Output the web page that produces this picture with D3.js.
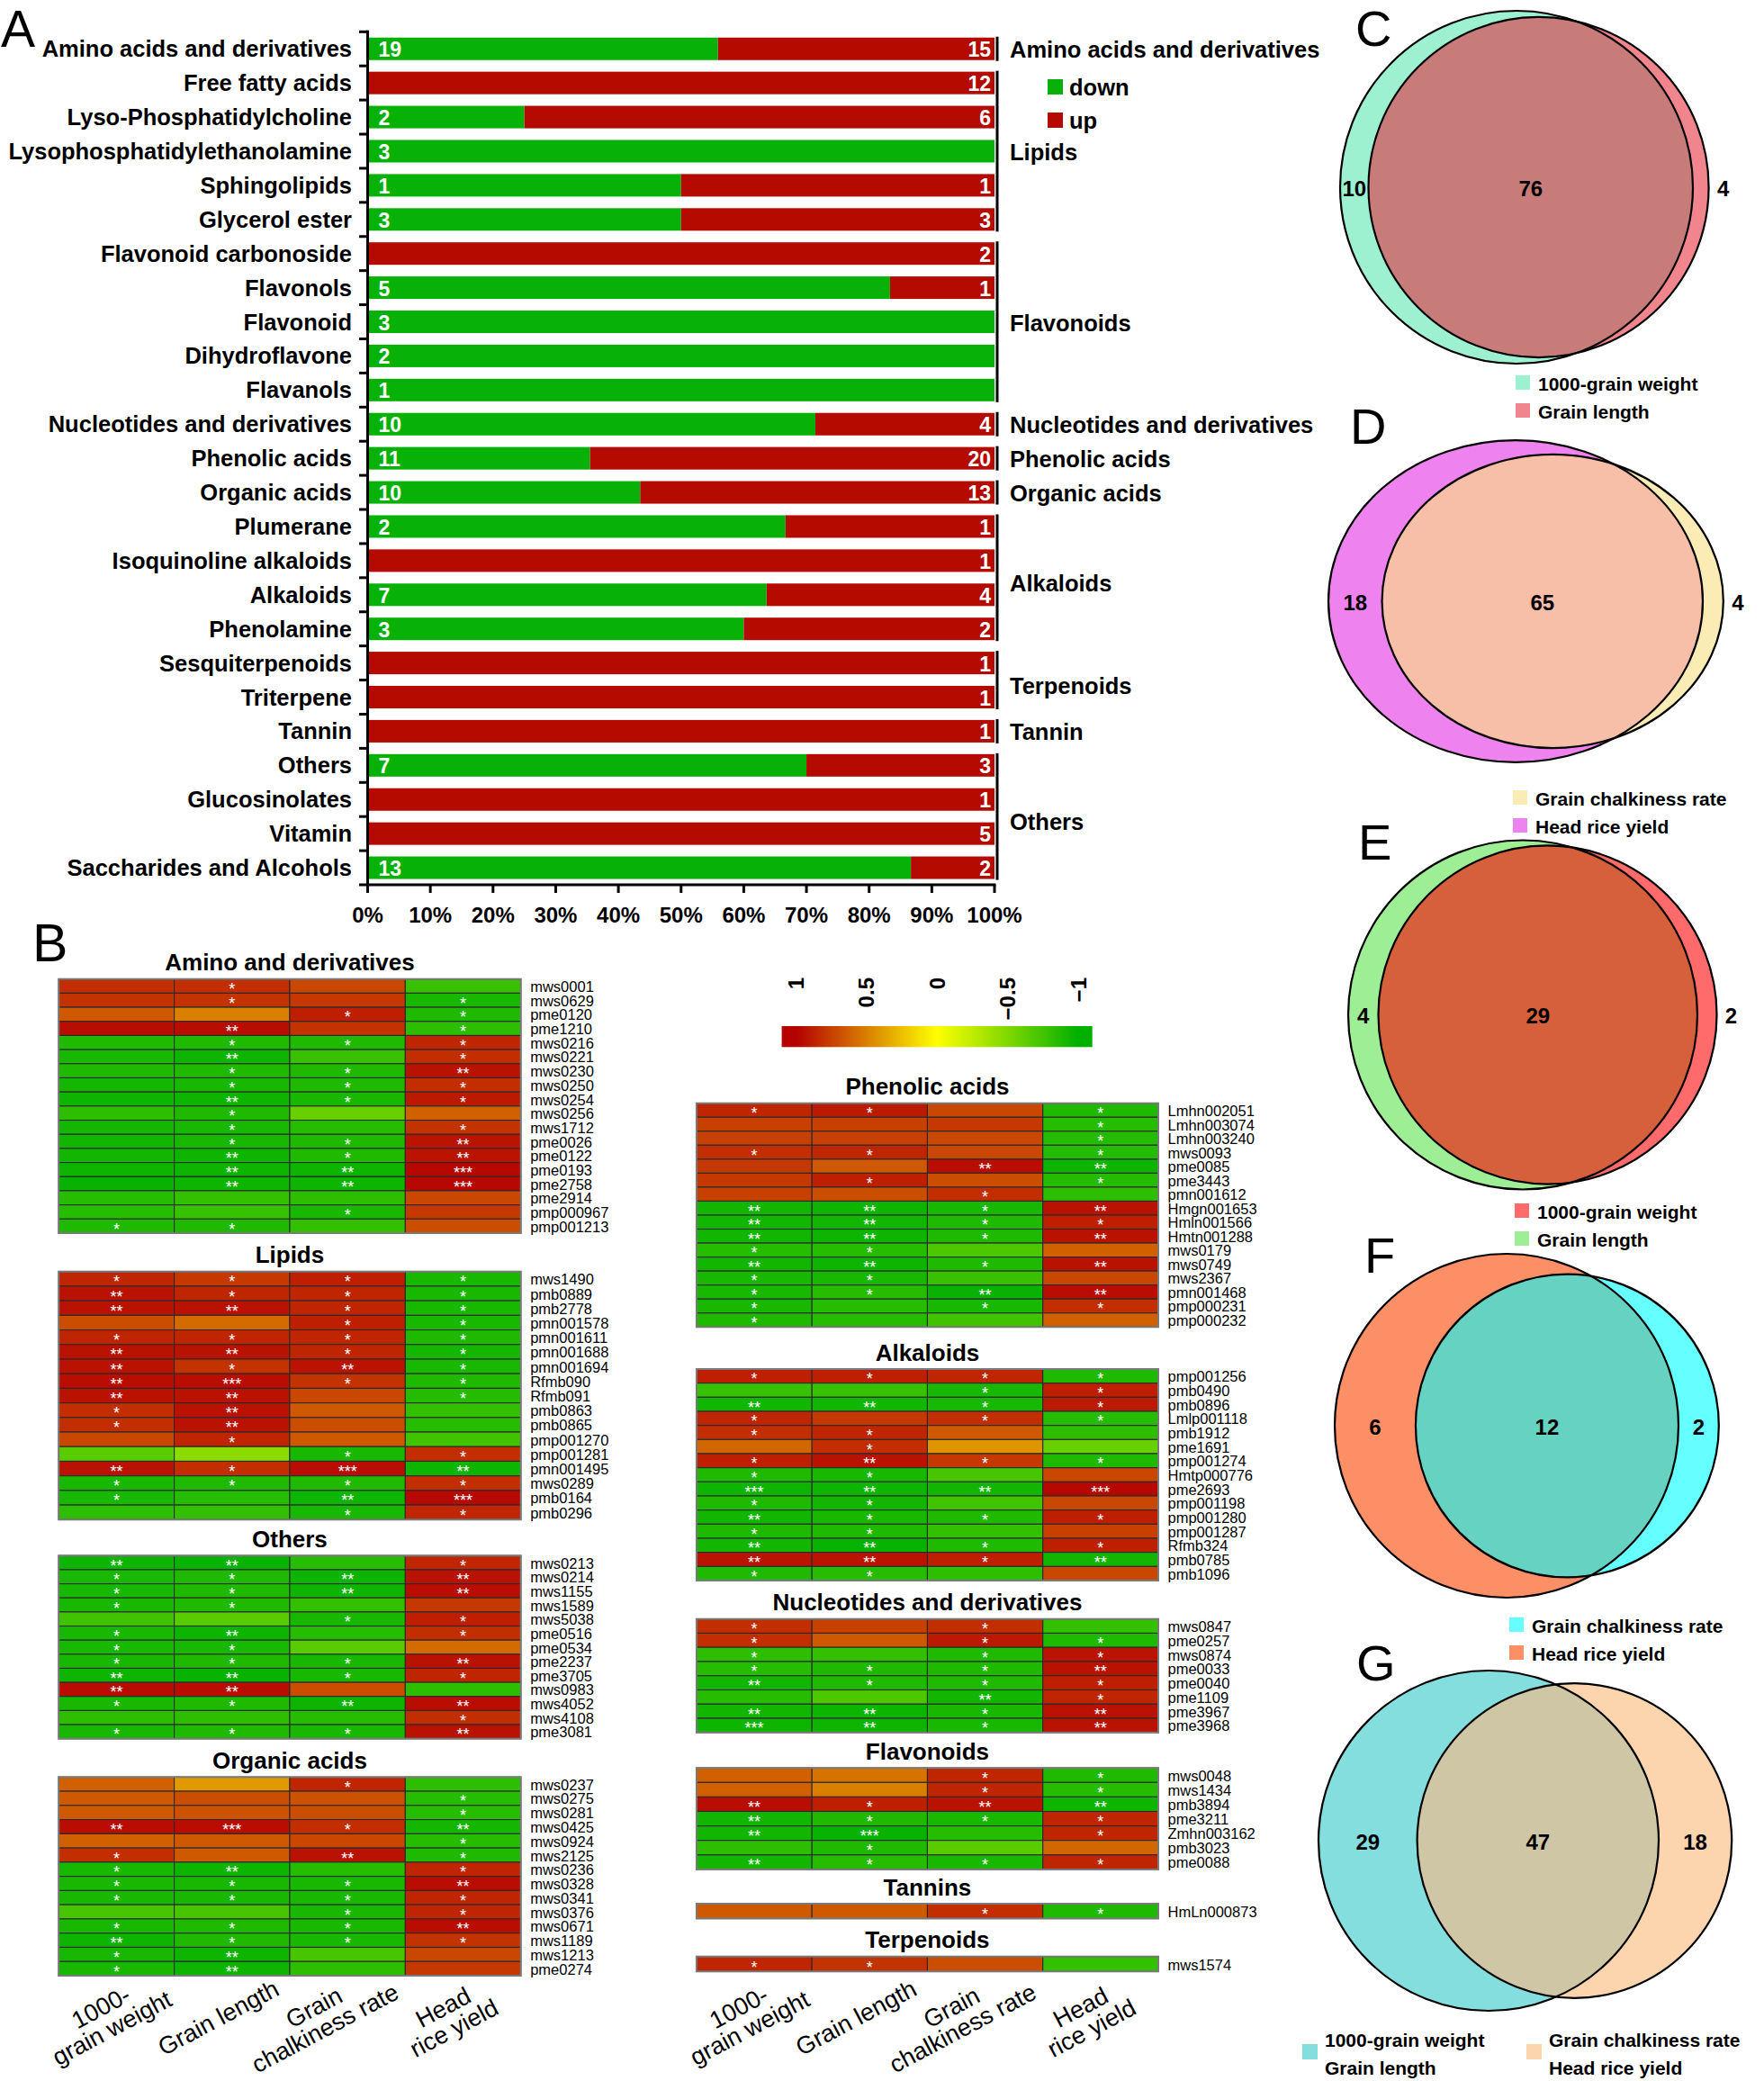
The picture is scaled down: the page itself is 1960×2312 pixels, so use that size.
<!DOCTYPE html>
<html><head><meta charset="utf-8">
<script src="https://cdn.jsdelivr.net/npm/d3@7"></script>
<style>body{margin:0;background:#fff}svg{display:block}text{font-family:"Liberation Sans",Arial,Helvetica,sans-serif}</style>
</head><body>
<svg id="chart" width="1960" height="2312"></svg>
<script>
// ================= DATA =================
// Panel A
const classNames = ["Amino acids and derivatives","Free fatty acids","Lyso-Phosphatidylcholine","Lysophosphatidylethanolamine","Sphingolipids","Glycerol ester","Flavonoid carbonoside","Flavonols","Flavonoid","Dihydroflavone","Flavanols","Nucleotides and derivatives","Phenolic acids","Organic acids","Plumerane","Isoquinoline alkaloids","Alkaloids","Phenolamine","Sesquiterpenoids","Triterpene","Tannin","Others","Glucosinolates","Vitamin","Saccharides and Alcohols"];
const downCounts = [19,0,2,3,1,3,0,5,3,2,1,10,11,10,2,0,7,3,0,0,0,7,0,0,13];
const upCounts   = [15,12,6,0,1,3,2,1,0,0,0,4,20,13,1,1,4,2,1,1,1,3,1,5,2];
const groupNames = ["Amino acids and derivatives","Lipids","Flavonoids","Nucleotides and derivatives","Phenolic acids","Organic acids","Alkaloids","Terpenoids","Tannin","Others"];
const groupFirst = [0,1,6,11,12,13,14,18,20,21];
const groupLast  = [0,5,10,11,12,13,17,19,20,24];
const percentTicks = [0,10,20,30,40,50,60,70,80,90,100];
const directionLabels = ["down","up"];

// Panel B
const traitLabels = [["1000-","grain weight"],["Grain length"],["Grain","chalkiness rate"],["Head","rice yield"]];
const colorbarTicks = [1,0.5,0,-0.5,-1];

const aminoIds = ["mws0001","mws0629","pme0120","pme1210","mws0216","mws0221","mws0230","mws0250","mws0254","mws0256","mws1712","pme0026","pme0122","pme0193","pme2758","pme2914","pmp000967","pmp001213"];
const aminoVals = [[0.82,0.82,0.72,-0.78],[0.80,0.80,0.78,-0.90],[0.65,0.50,0.88,-0.88],[0.95,0.95,0.80,-0.82],[-0.88,-0.88,-0.88,0.85],[-0.90,-0.95,-0.78,0.82],[-0.88,-0.88,-0.88,0.93],[-0.92,-0.90,-0.88,0.82],[-0.95,-0.95,-0.90,0.90],[-0.82,-0.88,-0.60,0.62],[-0.92,-0.90,-0.85,0.80],[-0.93,-0.90,-0.88,0.92],[-0.93,-0.95,-0.88,0.92],[-0.95,-0.95,-0.95,0.97],[-0.97,-0.95,-0.95,0.97],[-0.85,-0.80,-0.82,0.72],[-0.85,-0.78,-0.90,0.78],[-0.88,-0.88,-0.80,0.70]];
const aminoSig = [["","*","",""],["","*","","*"],["","","*","*"],["","**","","*"],["","*","*","*"],["","**","","*"],["","*","*","**"],["","*","*","*"],["","**","*","*"],["","*","",""],["","*","","*"],["","*","*","**"],["","**","*","**"],["","**","**","***"],["","**","**","***"],["","","",""],["","","*",""],["*","*","",""]];

const lipidIds = ["mws1490","pmb0889","pmb2778","pmn001578","pmn001611","pmn001688","pmn001694","Rfmb090","Rfmb091","pmb0863","pmb0865","pmp001270","pmp001281","pmn001495","mws0289","pmb0164","pmb0296"];
const lipidVals = [[0.85,0.78,0.88,-0.90],[0.93,0.85,0.85,-0.90],[0.93,0.93,0.85,-0.90],[0.70,0.58,0.88,-0.90],[0.85,0.85,0.85,-0.88],[0.93,0.93,0.85,-0.92],[0.93,0.80,0.92,-0.90],[0.95,0.95,0.80,-0.88],[0.93,0.93,0.72,-0.86],[0.82,0.93,0.65,-0.80],[0.82,0.93,0.70,-0.85],[0.72,0.85,0.65,-0.75],[-0.65,-0.45,-0.90,0.82],[0.93,0.82,0.95,-0.95],[-0.90,-0.88,-0.88,0.82],[-0.90,-0.85,-0.95,0.97],[-0.82,-0.80,-0.90,0.85]];
const lipidSig = [["*","*","*","*"],["**","*","*","*"],["**","**","*","*"],["","","*","*"],["*","*","*","*"],["**","**","*","*"],["**","*","**","*"],["**","***","*","*"],["**","**","","*"],["*","**","",""],["*","**","",""],["","*","",""],["","","*","*"],["**","*","***","**"],["*","*","*","*"],["*","","**","***"],["","","*","*"]];

const otherIds = ["mws0213","mws0214","mws1155","mws1589","mws5038","pme0516","pme0534","pme2237","pme3705","mws0983","mws4052","mws4108","pme3081"];
const otherVals = [[-0.95,-0.97,-0.85,0.85],[-0.90,-0.88,-0.95,0.93],[-0.90,-0.88,-0.95,0.95],[-0.90,-0.88,-0.80,0.78],[-0.75,-0.65,-0.90,0.88],[-0.90,-0.95,-0.85,0.82],[-0.90,-0.90,-0.65,0.58],[-0.90,-0.88,-0.90,0.93],[-0.95,-0.97,-0.90,0.85],[0.95,0.95,0.70,-0.82],[-0.90,-0.88,-0.95,0.95],[-0.82,-0.82,-0.85,0.82],[-0.90,-0.88,-0.90,0.93]];
const otherSig = [["**","**","","*"],["*","*","**","**"],["*","*","**","**"],["*","*","",""],["","","*","*"],["*","**","","*"],["*","*","",""],["*","*","*","**"],["**","**","*","*"],["**","**","",""],["*","*","**","**"],["","","","*"],["*","*","*","**"]];

const organicIds = ["mws0237","mws0275","mws0281","mws0425","mws0924","mws2125","mws0236","mws0328","mws0341","mws0376","mws0671","mws1189","mws1213","pme0274"];
const organicVals = [[0.62,0.40,0.85,-0.82],[0.65,0.70,0.68,-0.85],[0.65,0.68,0.70,-0.85],[0.95,0.95,0.82,-0.92],[0.62,0.65,0.72,-0.85],[0.82,0.65,0.93,-0.88],[-0.90,-0.95,-0.85,0.85],[-0.90,-0.90,-0.90,0.95],[-0.90,-0.90,-0.90,0.85],[-0.72,-0.72,-0.90,0.85],[-0.90,-0.88,-0.90,0.95],[-0.95,-0.88,-0.90,0.80],[-0.90,-0.95,-0.72,0.72],[-0.90,-0.95,-0.82,0.78]];
const organicSig = [["","","*",""],["","","","*"],["","","","*"],["**","***","*","**"],["","","","*"],["*","","**","*"],["*","**","","*"],["*","*","*","**"],["*","*","*","*"],["","","*","*"],["*","*","*","**"],["**","*","*","*"],["*","**","",""],["*","**","",""]];

const phenolicIds = ["Lmhn002051","Lmhn003074","Lmhn003240","mws0093","pme0085","pme3443","pmn001612","Hmgn001653","Hmln001566","Hmtn001288","mws0179","mws0749","mws2367","pmn001468","pmp000231","pmp000232"];
const phenolicVals = [[0.85,0.90,0.72,-0.88],[0.75,0.75,0.78,-0.85],[0.75,0.75,0.72,-0.86],[0.82,0.85,0.72,-0.86],[0.78,0.65,0.95,-0.95],[0.78,0.88,0.70,-0.86],[0.75,0.70,0.82,-0.82],[-0.93,-0.95,-0.90,0.93],[-0.93,-0.93,-0.88,0.88],[-0.93,-0.95,-0.88,0.93],[-0.85,-0.85,-0.70,0.62],[-0.93,-0.95,-0.88,0.93],[-0.90,-0.90,-0.78,0.72],[-0.90,-0.85,-0.97,0.95],[-0.90,-0.85,-0.90,0.82],[-0.88,-0.85,-0.75,0.62]];
const phenolicSig = [["*","*","","*"],["","","","*"],["","","","*"],["*","*","","*"],["","","**","**"],["","*","","*"],["","","*",""],["**","**","*","**"],["**","**","*","*"],["**","**","*","**"],["*","*","",""],["**","**","*","**"],["*","*","",""],["*","*","**","**"],["*","","*","*"],["*","","",""]];

const alkaloidIds = ["pmp001256","pmb0490","pmb0896","Lmlp001118","pmb1912","pme1691","pmp001274","Hmtp000776","pme2693","pmp001198","pmp001280","pmp001287","Rfmb324","pmb0785","pmb1096"];
const alkaloidVals = [[0.88,0.88,0.85,-0.88],[-0.78,-0.78,-0.90,0.88],[-0.93,-0.93,-0.90,0.90],[0.85,0.78,0.82,-0.85],[0.82,0.85,0.65,-0.82],[0.60,0.82,0.42,-0.60],[0.88,0.93,0.78,-0.88],[-0.88,-0.90,-0.72,0.72],[-0.95,-0.95,-0.93,0.97],[-0.88,-0.93,-0.75,0.72],[-0.93,-0.90,-0.88,0.88],[-0.88,-0.88,-0.80,0.75],[-0.93,-0.97,-0.88,0.88],[0.92,0.92,0.88,-0.93],[-0.88,-0.85,-0.82,0.72]];
const alkaloidSig = [["*","*","*","*"],["","","*","*"],["**","**","*","*"],["*","","*","*"],["*","*","",""],["","*","",""],["*","**","*","*"],["*","*","",""],["***","**","**","***"],["*","*","",""],["**","*","*","*"],["*","*","",""],["**","**","*","*"],["**","**","*","**"],["*","*","",""]];

const nucleoIds = ["mws0847","pme0257","mws0874","pme0033","pme0040","pme1109","pme3967","pme3968"];
const nucleoVals = [[0.82,0.75,0.82,-0.80],[0.82,0.65,0.90,-0.88],[-0.82,-0.80,-0.88,0.92],[-0.85,-0.88,-0.88,0.93],[-0.93,-0.88,-0.88,0.88],[-0.85,-0.70,-0.93,0.85],[-0.93,-0.95,-0.90,0.93],[-0.95,-0.95,-0.90,0.93]];
const nucleoSig = [["*","","*",""],["*","","*","*"],["*","","*","*"],["*","*","*","**"],["**","*","*","*"],["","","**","*"],["**","**","*","**"],["***","**","*","**"]];

const flavoIds = ["mws0048","mws1434","pmb3894","pme3211","Zmhn003162","pmb3023","pme0088"];
const flavoVals = [[0.62,0.55,0.85,-0.88],[0.62,0.50,0.85,-0.85],[0.95,0.88,0.93,-0.95],[-0.93,-0.88,-0.90,0.85],[-0.93,-0.97,-0.85,0.85],[-0.82,-0.88,-0.65,0.60],[-0.93,-0.85,-0.90,0.85]];
const flavoSig = [["","","*","*"],["","","*","*"],["**","*","**","**"],["**","*","*","*"],["**","***","","*"],["","*","",""],["**","*","*","*"]];

const tanninIds = ["HmLn000873"];
const tanninVals = [[0.65,0.65,0.82,-0.88]];
const tanninSig = [["","","*","*"]];

const terpeneIds = ["mws1574"];
const terpeneVals = [[0.85,0.80,0.70,-0.80]];
const terpeneSig = [["*","*","",""]];

// Panels C-G (Venn)
const vennLetters = ["C","D","E","F","G"];
const vennLeftOnly = [10,18,4,6,29];
const vennBoth = [76,65,29,12,47];
const vennRightOnly = [4,4,2,2,18];
const vennLegendLabels = [["1000-grain weight","Grain length"],["Grain chalkiness rate","Head rice yield"],["1000-grain weight","Grain length"],["Grain chalkiness rate","Head rice yield"],[["1000-grain weight","Grain length"],["Grain chalkiness rate","Head rice yield"]]];
const vennLegendSide = [["L","R"],["R","L"],["R","L"],["R","L"],["L","R"]];

// ================= STYLE / LAYOUT =================
const GREEN_BAR = "#08b108", RED_BAR = "#b40a00";
const heatColor = d3.scaleLinear().domain([-1,0,1]).range(["#00b000","#ffff00","#b40000"]).clamp(true);
const vennLeftFill  = ["#9DF0D0","#EE82EE","#9DEE94","#FD8F67","#84DEDE"];
const vennRightFill = ["#F0858E","#FBEBB4","#FF6A6A","#66FFFF","#FCD4AD"];
const vennBothFill  = ["#C87C7A","#F7BEA8","#D5603B","#66D2C1","#CEC6A5"];
const vennLeftCx = [1685,1684,1692,1674,1654];
const vennCy = [208,668,1127.5,1584,2045];
const vennRmax = [196,208,194,191,189];
const vennSy = [1,0.86,1,1,1];
const vennLegendX = [1684,1681,1683,1677];
const vennLegendY = [425,886,1345,1805];
const vennLetterPos = [[1506,51],[1500,493],[1509,955],[1516,1414],[1507,1867]];

const svg = d3.select("#chart");
svg.append("rect").attr("width",1960).attr("height",2312).attr("fill","#fff");
const defs = svg.append("defs");

// ================= PANEL A =================
const xA = d3.scaleLinear().domain([0,100]).range([408.5,1105]);
const yA = d3.scaleBand().domain(classNames).range([35.3,983]).paddingInner(0.34).paddingOuter(0.17);
const gA = svg.append("g");
const bw = yA.bandwidth();
classNames.forEach((c,i)=>{
  const tot = downCounts[i]+upCounts[i];
  const pd = downCounts[i]/tot*100;
  const y = yA(c);
  if (downCounts[i]>0) gA.append("rect").attr("x",xA(0)).attr("y",y).attr("width",xA(pd)-xA(0)).attr("height",bw).attr("fill",GREEN_BAR);
  if (upCounts[i]>0) gA.append("rect").attr("x",xA(pd)).attr("y",y).attr("width",xA(100)-xA(pd)).attr("height",bw).attr("fill",RED_BAR);
  if (downCounts[i]>0) gA.append("text").attr("x",xA(0)+12).attr("y",y+bw/2+1).attr("dominant-baseline","central").attr("fill","#fff").attr("font-weight","bold").attr("font-size",23).text(downCounts[i]);
  if (upCounts[i]>0) gA.append("text").attr("x",xA(100)-4).attr("y",y+bw/2+1).attr("text-anchor","end").attr("dominant-baseline","central").attr("fill","#fff").attr("font-weight","bold").attr("font-size",23).text(upCounts[i]);
  gA.append("text").attr("x",391).attr("y",y+bw/2).attr("text-anchor","end").attr("dominant-baseline","central").attr("font-weight","bold").attr("font-size",25.5).text(c);
});
const stepA = yA.step();
const bounds = classNames.map(c=>yA(c)-(stepA-bw)/2).concat([yA(classNames[classNames.length-1])+bw+(stepA-bw)/2]);
bounds.forEach(b=>gA.append("line").attr("x1",399).attr("x2",xA(0)).attr("y1",b).attr("y2",b).attr("stroke","#000").attr("stroke-width",3));
gA.append("line").attr("x1",xA(0)).attr("x2",xA(0)).attr("y1",bounds[0]-1.5).attr("y2",bounds[bounds.length-1]+1.5).attr("stroke","#000").attr("stroke-width",3);
const yAxisBottom = bounds[bounds.length-1];
gA.append("line").attr("x1",xA(0)-1.5).attr("x2",xA(100)+1.5).attr("y1",yAxisBottom).attr("y2",yAxisBottom).attr("stroke","#000").attr("stroke-width",3);
percentTicks.forEach(t=>{
  gA.append("line").attr("x1",xA(t)).attr("x2",xA(t)).attr("y1",yAxisBottom).attr("y2",yAxisBottom+9).attr("stroke","#000").attr("stroke-width",3);
  gA.append("text").attr("x",xA(t)).attr("y",yAxisBottom+42).attr("text-anchor","middle").attr("font-weight","bold").attr("font-size",24).text(t+"%");
});
groupNames.forEach((g,k)=>{
  const y1 = yA(classNames[groupFirst[k]])-1, y2 = yA(classNames[groupLast[k]])+bw+1;
  const even = (groupLast[k]-groupFirst[k]+1)%2===0 && groupLast[k]>groupFirst[k];
  gA.append("line").attr("x1",1108).attr("x2",1108).attr("y1",y1).attr("y2",y2).attr("stroke","#000").attr("stroke-width",3);
  gA.append("text").attr("x",1122).attr("y",(y1+y2)/2+1+(even?5:0)).attr("dominant-baseline","central").attr("font-weight","bold").attr("font-size",25.5).text(g);
});
[GREEN_BAR,RED_BAR].forEach((col,i)=>{
  gA.append("rect").attr("x",1164).attr("y",88+i*37).attr("width",17).attr("height",17).attr("fill",col);
  gA.append("text").attr("x",1188).attr("y",97+i*37).attr("dominant-baseline","central").attr("font-weight","bold").attr("font-size",25.5).text(directionLabels[i]);
});
svg.append("text").attr("x",1).attr("y",52).attr("font-size",57).text("A");
svg.append("text").attr("x",36).attr("y",1068).attr("font-size",59).text("B");

// ================= PANEL B =================
function drawHeat(x0,x1,top,bottom,title,ids,vals,sig){
  const g = svg.append("g");
  const xs = d3.scaleBand().domain(d3.range(4)).range([x0,x1]);
  const ys = d3.scaleBand().domain(ids).range([top,bottom]);
  g.append("text").attr("x",(x0+x1)/2).attr("y",top-18.5).attr("text-anchor","middle").attr("dominant-baseline","central").attr("font-weight","bold").attr("font-size",26).text(title);
  ids.forEach((id,i)=>{
    vals[i].forEach((v,j)=>{
      g.append("rect").attr("x",xs(j)).attr("y",ys(id)).attr("width",xs.bandwidth()).attr("height",ys.bandwidth()).attr("fill",heatColor(v)).attr("stroke","#2a2a2a").attr("stroke-width",1.1);
    });
  });
  ids.forEach((id,i)=>{
    vals[i].forEach((v,j)=>{
      if (sig[i][j]) g.append("text").attr("x",xs(j)+xs.bandwidth()/2).attr("y",ys(id)+ys.bandwidth()/2+9.5).attr("text-anchor","middle").attr("fill","#fff").attr("font-size",18).text(sig[i][j]);
    });
    g.append("text").attr("x",x1+10.5).attr("y",ys(id)+ys.bandwidth()/2+0.5).attr("dominant-baseline","central").attr("font-size",16.5).text(id);
  });
  g.append("rect").attr("x",x0).attr("y",top).attr("width",x1-x0).attr("height",bottom-top).attr("fill","none").attr("stroke","#7a7a7a").attr("stroke-width",2);
}
const LX0=65.2, LX1=578.7, RX0=773.9, RX1=1287;
drawHeat(LX0,LX1,1087.7,1370,"Amino and derivatives",aminoIds,aminoVals,aminoSig);
drawHeat(LX0,LX1,1412.7,1688.3,"Lipids",lipidIds,lipidVals,lipidSig);
drawHeat(LX0,LX1,1728.3,1931.7,"Others",otherIds,otherVals,otherSig);
drawHeat(LX0,LX1,1974.3,2195,"Organic acids",organicIds,organicVals,organicSig);
drawHeat(RX0,RX1,1225.7,1474.3,"Phenolic acids",phenolicIds,phenolicVals,phenolicSig);
drawHeat(RX0,RX1,1521,1756,"Alkaloids",alkaloidIds,alkaloidVals,alkaloidSig);
drawHeat(RX0,RX1,1798.7,1924.8,"Nucleotides and derivatives",nucleoIds,nucleoVals,nucleoSig);
drawHeat(RX0,RX1,1964.2,2076.9,"Flavonoids",flavoIds,flavoVals,flavoSig);
drawHeat(RX0,RX1,2115,2131.5,"Tannins",tanninIds,tanninVals,tanninSig);
drawHeat(RX0,RX1,2173.7,2190.3,"Terpenoids",terpeneIds,terpeneVals,terpeneSig);

const labelShift = [-11,-15,-31,-16];
[[LX0,LX1],[RX0,RX1]].forEach(([x0,x1])=>{
  const xs = d3.scaleBand().domain(d3.range(4)).range([x0,x1]);
  traitLabels.forEach((lines,j)=>{
    const cx = xs(j)+xs.bandwidth()/2+labelShift[j];
    const t = svg.append("text").attr("transform",`translate(${cx},2242) rotate(-28)`).attr("text-anchor","middle").attr("font-size",27);
    lines.forEach((ln,k)=>{
      t.append("tspan").attr("x",0).attr("y",(k-(lines.length-1)/2)*26).attr("dominant-baseline","central").text(ln);
    });
  });
});

const cbScale = d3.scaleLinear().domain([1.1,-1.1]).range([868.6,1213.7]);
const grad = defs.append("linearGradient").attr("id","cbgrad").attr("x1","0%").attr("x2","100%");
d3.range(0,21).forEach(i=>{
  const v = 1.1-2.2*i/20;
  grad.append("stop").attr("offset",(i*5)+"%").attr("stop-color",heatColor(v));
});
svg.append("rect").attr("x",cbScale(1.1)).attr("y",1140).attr("width",cbScale(-1.1)-cbScale(1.1)).attr("height",23.3).attr("fill","url(#cbgrad)");
colorbarTicks.forEach(t=>{
  svg.append("text").attr("transform",`translate(${cbScale(t)},1086) rotate(-90)`).attr("text-anchor","end").attr("dominant-baseline","central").attr("font-weight","bold").attr("font-size",24).text(String(t).replace("-","\u2212"));
});

// ================= VENN PANELS =================
function lens(r1,r2,d){
  if (d>=r1+r2) return 0;
  if (d<=Math.abs(r1-r2)) return Math.PI*Math.min(r1,r2)**2;
  return r1*r1*Math.acos((d*d+r1*r1-r2*r2)/(2*d*r1)) + r2*r2*Math.acos((d*d+r2*r2-r1*r1)/(2*d*r2))
    - 0.5*Math.sqrt((-d+r1+r2)*(d+r1-r2)*(d-r1+r2)*(d+r1+r2));
}
vennLetters.forEach((L,i)=>{
  const nL = vennLeftOnly[i]+vennBoth[i], nR = vennRightOnly[i]+vennBoth[i];
  const nMax = Math.max(nL,nR);
  const rScale = d3.scaleSqrt().domain([0,nMax]).range([0,vennRmax[i]]);
  const r1 = rScale(nL), r2 = rScale(nR);
  const unitArea = Math.PI*vennRmax[i]**2/nMax;
  const target = vennBoth[i]*unitArea;
  let lo = Math.abs(r1-r2)+1e-6, hi = r1+r2;
  for (let k=0;k<80;k++){ const m=(lo+hi)/2; if (lens(r1,r2,m)>target) lo=m; else hi=m; }
  const d = (lo+hi)/2;
  const cx1 = vennLeftCx[i], cx2 = cx1+d, cy = vennCy[i], sy = vennSy[i];
  const g = svg.append("g");
  const clipId = "vclip"+i;
  defs.append("clipPath").attr("id",clipId).append("ellipse").attr("cx",cx1).attr("cy",cy).attr("rx",r1).attr("ry",r1*sy);
  g.append("ellipse").attr("cx",cx1).attr("cy",cy).attr("rx",r1).attr("ry",r1*sy).attr("fill",vennLeftFill[i]);
  g.append("ellipse").attr("cx",cx2).attr("cy",cy).attr("rx",r2).attr("ry",r2*sy).attr("fill",vennRightFill[i]);
  g.append("ellipse").attr("cx",cx2).attr("cy",cy).attr("rx",r2).attr("ry",r2*sy).attr("fill",vennBothFill[i]).attr("clip-path",`url(#${clipId})`);
  g.append("ellipse").attr("cx",cx1).attr("cy",cy).attr("rx",r1).attr("ry",r1*sy).attr("fill","none").attr("stroke","#000").attr("stroke-width",2.2);
  g.append("ellipse").attr("cx",cx2).attr("cy",cy).attr("rx",r2).attr("ry",r2*sy).attr("fill","none").attr("stroke","#000").attr("stroke-width",2.2);
  const leftA = cx1-r1, leftB = cx2-r2, rightA = cx1+r1, rightB = cx2+r2;
  const lx = (leftA+leftB)/2, mx = (leftB+rightA)/2;
  let rx = (rightA+rightB)/2;
  if (rightB-rightA < 25) rx = rightB+16;
  [[lx,vennLeftOnly[i]],[mx,vennBoth[i]],[rx,vennRightOnly[i]]].forEach(([x,v])=>{
    g.append("text").attr("x",x).attr("y",cy+1).attr("text-anchor","middle").attr("dominant-baseline","central").attr("font-weight","bold").attr("font-size",24).text(v);
  });
  svg.append("text").attr("x",vennLetterPos[i][0]).attr("y",vennLetterPos[i][1]).attr("font-size",56).text(L);
  const fillFor = s => s==="L" ? vennLeftFill[i] : vennRightFill[i];
  if (i<4){
    vennLegendLabels[i].forEach((lab,k)=>{
      const y = vennLegendY[i]+k*31;
      g.append("rect").attr("x",vennLegendX[i]).attr("y",y-8).attr("width",16).attr("height",16).attr("fill",fillFor(vennLegendSide[i][k]));
      g.append("text").attr("x",vennLegendX[i]+25).attr("y",y+1).attr("dominant-baseline","central").attr("font-weight","bold").attr("font-size",21).text(lab);
    });
  } else {
    const lgX = [1447,1696];
    vennLegendLabels[i].forEach((lines,k)=>{
      g.append("rect").attr("x",lgX[k]).attr("y",2271).attr("width",17).attr("height",17).attr("fill",fillFor(vennLegendSide[i][k]));
      lines.forEach((ln,m)=>{
        g.append("text").attr("x",lgX[k]+25).attr("y",2266+m*31).attr("dominant-baseline","central").attr("font-weight","bold").attr("font-size",21).text(ln);
      });
    });
  }
});
</script>
</body></html>
